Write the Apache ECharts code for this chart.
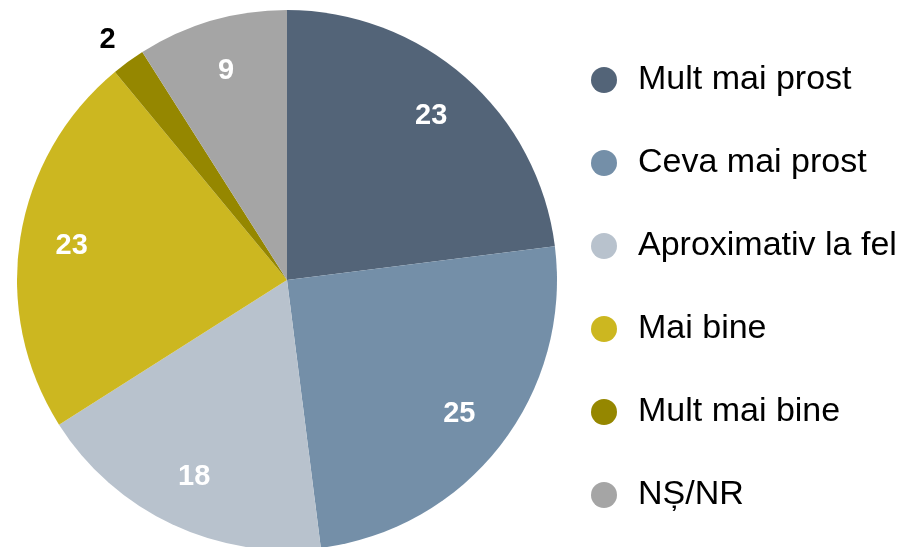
<!DOCTYPE html>
<html>
<head>
<meta charset="utf-8">
<script src="https://cdn.jsdelivr.net/npm/echarts@6/dist/echarts.min.js"></script>
<style>
  html, body { margin: 0; padding: 0; background: #fff; }
  #chart { width: 906px; height: 547px; }
</style>
</head>
<body>
<div id="chart"></div>
<script>
const categories = ['Mult mai prost', 'Ceva mai prost', 'Aproximativ la fel', 'Mai bine', 'Mult mai bine', 'NȘ/NR'];
const values = [23, 25, 18, 23, 2, 9];
const colors = ['#536478', '#748fa8', '#b8c2cd', '#ccb720', '#958700', '#a5a5a5'];
// the small slice gets its label outside, in black
const outsideLabel = 'Mult mai bine';

const chart = echarts.init(document.getElementById('chart'));

const pieData = categories.map((name, i) => ({
    name: name,
    value: values[i],
    itemStyle: {color: colors[i]},
    label: {show: name === outsideLabel}
}));

// transparent, bigger pie used only to put the white labels further out
const labelData = categories.map((name, i) => ({
    name: name,
    value: values[i],
    label: {show: name !== outsideLabel}
}));

const option = {
    animation: false,
    legend: {
        orient: 'vertical',
        left: 586,
        top: 58,
        icon: 'circle',
        itemWidth: 26,
        itemHeight: 26,
        itemGap: 49,
        selectedMode: false,
        data: categories,
        textStyle: {
            fontFamily: 'Liberation Sans',
            fontSize: 34,
            color: '#000',
            lineHeight: 26,
            padding: [0, 0, 0, 16]
        }
    },
    series: [
        {
            name: 'main',
            type: 'pie',
            center: [287, 280],
            radius: [0, 270],
            startAngle: 90,
            data: pieData,
            itemStyle: {borderWidth: 0},
            label: {
                position: 'outside',
                color: '#000',
                fontFamily: 'Liberation Sans',
                fontWeight: 'bold',
                fontSize: 29,
                formatter: '{c}'
            },
            labelLayout: {dx: 3, dy: -7},
            labelLine: {show: false, length: 18, length2: 0},
            emphasis: {disabled: true}
        },
        {
            name: 'labels',
            type: 'pie',
            silent: true,
            center: [287, 280],
            radius: [0, 430],
            startAngle: 90,
            data: labelData,
            itemStyle: {color: 'rgba(0,0,0,0)'},
            label: {
                position: 'inside',
                color: '#fff',
                fontFamily: 'Liberation Sans',
                fontWeight: 'bold',
                fontSize: 29,
                formatter: '{c}'
            },
            labelLine: {show: false},
            emphasis: {disabled: true}
        }
    ]
};

chart.setOption(option);
</script>
</body>
</html>
